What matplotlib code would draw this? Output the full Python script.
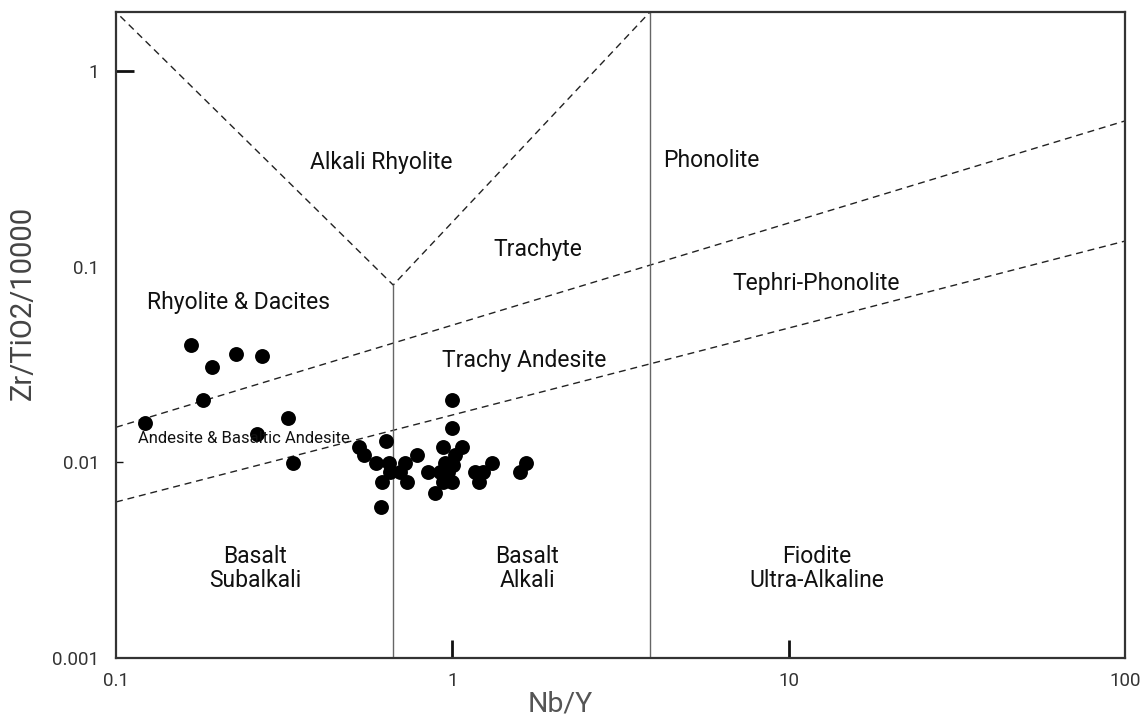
import numpy as np
import matplotlib
matplotlib.use("Agg")
import matplotlib.pyplot as plt
from matplotlib.ticker import FixedLocator, FixedFormatter, NullLocator

plt.rcParams['font.family'] = ['Roboto', 'DejaVu Sans']

# sample data (Nb/Y vs Zr/TiO2/10000)
nb_y = [0.122, 0.167, 0.193, 0.228, 0.272, 0.182, 0.263, 0.324, 0.336,
        0.528, 0.546, 0.636, 0.593, 0.649, 0.723, 0.785, 0.653, 0.699,
        0.847, 0.618, 0.733, 0.889, 0.614, 1.0, 1.0, 0.938, 1.068, 1.019,
        0.951, 1.002, 0.919, 0.971, 0.938, 1.0, 1.168, 1.234, 1.2, 1.312,
        1.656, 1.589]
zr_ti = [0.0159, 0.0397, 0.0307, 0.0357, 0.0350, 0.0208, 0.0140, 0.0168, 0.0099,
         0.0120, 0.0109, 0.0129, 0.0099, 0.0099, 0.0099, 0.0109, 0.0089, 0.0089,
         0.0089, 0.0079, 0.0079, 0.0070, 0.0059, 0.0208, 0.0150, 0.0120, 0.0120, 0.0109,
         0.0099, 0.0097, 0.0089, 0.0089, 0.0079, 0.0079, 0.0089, 0.0089, 0.0079, 0.0099,
         0.0099, 0.0089]

# field boundaries (Winchester & Floyd)
v_left_x = [0.103, 0.667, 3.87]
v_left_y = [1.9, 0.0805, 2.0]
upper_x = [0.1, 100]
upper_y = [0.0151, 0.555]
lower_x = [0.1, 100]
lower_y = [0.00627, 0.135]
split_x = 0.667
split_top = 0.0805
right_x = 3.87

field_names = ["Alkali Rhyolite", "Phonolite", "Trachyte", "Tephri-Phonolite",
               "Rhyolite & Dacites", "Trachy Andesite", "Basalt\nSubalkali",
               "Basalt\nAlkali", "Fiodite\nUltra-Alkaline"]
field_x = [0.614, 5.88, 1.80, 12.1, 0.231, 1.63, 0.259, 1.67, 12.1]
field_y = [0.342, 0.35, 0.122, 0.0815, 0.0659, 0.0333, 0.00288, 0.00288, 0.00288]

fig = plt.figure(figsize=(11.42, 7.21), dpi=100)
ax = fig.add_axes([0.1016, 0.0874, 0.8835, 0.896])
ax.set_xscale('log')
ax.set_yscale('log')
ax.set_xlim(0.1, 100)
ax.set_ylim(0.001, 2.0)

dash = (0, (5, 3.5))
ax.plot(v_left_x, v_left_y, color='#222222', lw=1.0, linestyle=dash)
ax.plot(upper_x, upper_y, color='#222222', lw=1.0, linestyle=dash)
ax.plot(lower_x, lower_y, color='#222222', lw=1.0, linestyle=dash)
ax.plot([split_x, split_x], [0.001, split_top], color='#666666', lw=1.0)
ax.axvline(right_x, color='#666666', lw=1.0)

ax.scatter(nb_y, zr_ti, s=115, color='black', zorder=3, linewidths=0)

for name, fx, fy in zip(field_names, field_x, field_y):
    ax.text(fx, fy, name, ha='center', va='center', fontsize=16.5,
            color='#111111', linespacing=1.05)
ax.text(0.240, 0.0133, "Andesite & Basaltic Andesite", ha='center', va='center',
        fontsize=12, color='#111111')

# ticks
ax.xaxis.set_major_locator(FixedLocator([0.1, 1, 10, 100]))
ax.xaxis.set_major_formatter(FixedFormatter(["0.1", "1", "10", "100"]))
ax.yaxis.set_major_locator(FixedLocator([0.001, 0.01, 0.1, 1]))
ax.yaxis.set_major_formatter(FixedFormatter(["0.001", "0.01", "0.1", "1"]))
ax.xaxis.set_minor_locator(NullLocator())
ax.yaxis.set_minor_locator(NullLocator())
ax.tick_params(axis='both', direction='in', length=13, width=2, color='#111111',
               labelsize=13.5, labelcolor='#333333')
ax.tick_params(axis='x', pad=10)
ax.tick_params(axis='y', pad=12)
# no tick marks at the corners or on 0.1 / 0.01
for i in (0, 3):
    ax.xaxis.get_major_ticks()[i].tick1line.set_visible(False)
for i in (0, 2):
    ax.yaxis.get_major_ticks()[i].tick1line.set_visible(False)
ax.yaxis.get_major_ticks()[1].tick1line.set_markersize(5)
ax.yaxis.get_major_ticks()[1].tick1line.set_markeredgewidth(1)

for sp in ax.spines.values():
    sp.set_color('#333333')
    sp.set_linewidth(1.6)

ax.set_xlabel("Nb/Y", fontsize=20.5, color='#555555')
ax.xaxis.set_label_coords(0.44, -0.05)
ax.set_ylabel("Zr/TiO2/10000", fontsize=21, color='#444444')
ax.yaxis.set_label_coords(-0.079, 0.55)

fig.savefig("out.png", dpi=100)
